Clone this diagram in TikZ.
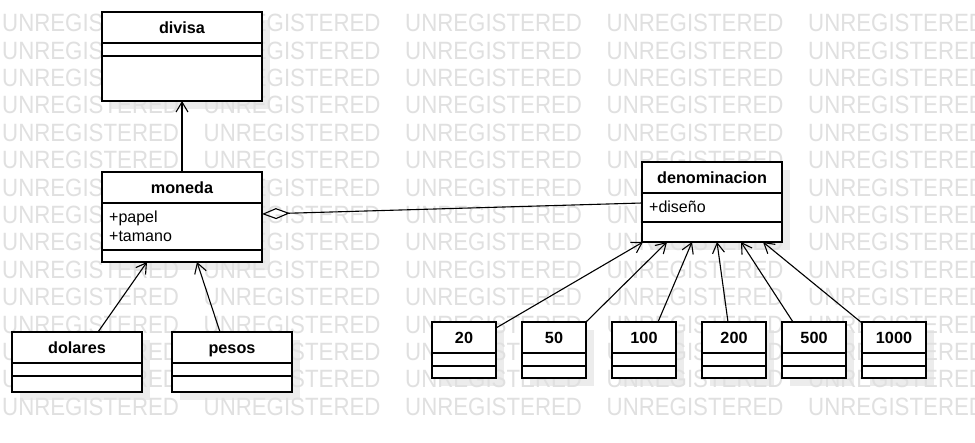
\documentclass[tikz,border=0pt]{standalone}
\usepackage{fontspec}
\setmainfont{Liberation Sans}
\usetikzlibrary{arrows.meta,calc}
\definecolor{wm}{RGB}{224,224,224}
\definecolor{shad}{RGB}{236,236,236}
\begin{document}
\begin{tikzpicture}[x=1pt,y=-1pt,
  clsbox/.style={draw,line width=1.2pt,fill=white,anchor=north west,inner sep=0pt,outer sep=0pt},
  ttl/.style={font=\bfseries\fontsize{16.2}{19}\selectfont,anchor=base,inner sep=0pt},
  attr/.style={font=\fontsize{16}{19}\selectfont,anchor=base west,inner sep=0pt},
  gen/.style={line width=1.1pt,-{Straight Barb[length=10pt,width=12pt]}},
  agg/.style={line width=1.1pt,{Diamond[open,length=28pt,width=11pt]}-}]
\useasboundingbox (0,0) rectangle (975,442);
\fill[white] (0,0) rectangle (975,442);
\def\classes{divisa/102/12/160/89/divisa/31/44,
  moneda/102/172/160/90/moneda/31/78,
  denominacion/642/162/140/80/denominacion/31/60,
  dolares/12/332/130/60/dolares/31/44,
  pesos/172/332/120/60/pesos/31/44,
  c20/432/322/64/56/20/31/44,
  c50/522/322/64/56/50/31/44,
  c100/612/322/64/56/100/31/44,
  c200/702/322/64/56/200/31/44,
  c500/782/322/64/56/500/31/44,
  c1000/862/322/64/56/1000/31/44}
% shadows
\foreach \n/\x/\y/\w/\h/\t/\a/\b in \classes {
  \fill[shad] (\x+8,\y+8) rectangle ++(\w,\h);
}
% watermark
\foreach \r in {0,...,14} {
  \foreach \c in {0,...,4} {
    \node[anchor=west,inner sep=0pt,text=wm,font=\fontsize{25}{25}\selectfont]
      (wm-\r-\c) at (2+201.5*\c,23+27.4*\r) {\scalebox{0.89}[1]{UNREGISTERED}};
  }
}
% classes
\foreach \n/\x/\y/\w/\h/\t/\a/\b in \classes {
  \node[clsbox,minimum width=\w pt,minimum height=\h pt] (\n) at (\x,\y) {};
  \draw[line width=1.2pt] (\x,\y+\a) -- ++(\w,0);
  \draw[line width=1.2pt] (\x,\y+\b) -- ++(\w,0);
  \node[ttl] (\n-title) at ($(\n.north)+(0,21)$) {\t};
}
\node[attr] (papel) at ($(moneda.north west)+(7,50)$) {+papel};
\node[attr] (tamano) at ($(moneda.north west)+(7,69)$) {+tamano};
\node[attr] (diseno) at ($(denominacion.north west)+(7,50)$) {+diseño};
% connectors
\draw[gen] (moneda.north) -- (divisa.south);
\draw[gen] ($(dolares.north west)+(86,0)$) -- ($(moneda.south west)+(45,0)$);
\draw[gen] ($(pesos.north west)+(48,0)$) -- ($(moneda.south west)+(95,0)$);
\draw[agg] ($(moneda.east)+(0,-3)$) -- ($(denominacion.west)+(0,1)$);
\draw[gen] ($(c20.north east)+(0,6)$) -- ($(denominacion.south west)+(1,0)$);
\draw[gen] (c50.north east) -- ($(denominacion.south west)+(25,0)$);
\draw[gen] ($(c100.north west)+(46,0)$) -- ($(denominacion.south west)+(50,0)$);
\draw[gen] ($(c200.north west)+(26,0)$) -- ($(denominacion.south west)+(75,0)$);
\draw[gen] ($(c500.north west)+(11,0)$) -- ($(denominacion.south west)+(99,0)$);
\draw[gen] ($(c1000.north west)+(0,1)$) -- ($(denominacion.south west)+(121,0)$);
\end{tikzpicture}
\end{document}
